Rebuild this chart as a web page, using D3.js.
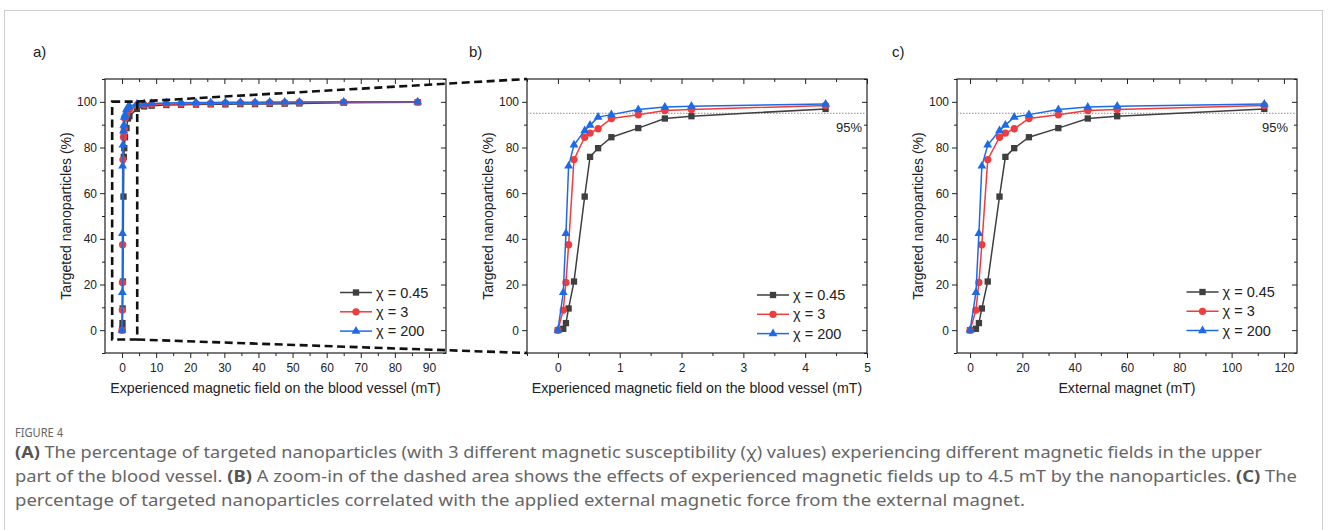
<!DOCTYPE html>
<html>
<head>
<meta charset="utf-8">
<script src="https://cdn.jsdelivr.net/npm/d3@7"></script>
<style>
  body { margin: 0; background: #fff; }
  text { font-family: "Liberation Sans", Arial, sans-serif; }
</style>
</head>
<body>
<script>
// experienced field on the blood vessel (mT), shared by panels a and b
const fieldVessel = [0, 0.0865, 0.13, 0.173, 0.26, 0.433, 0.52, 0.65, 0.865, 1.3, 1.73, 2.16, 4.33]
// extra points that only appear in panel a
const fieldVesselHigh = [6.5, 8.67, 13, 17.3, 21.7, 26, 30.3, 34.7, 39, 43.3, 47.7, 52, 65, 86.7]
// field of the external magnet (mT), panel c
const fieldExternal = [0, 2.25, 3.375, 4.5, 6.75, 11.25, 13.5, 16.875, 22.5, 33.75, 45, 56.25, 112.5]

// targeted nanoparticles (%)
const pctChi045 = [0, 0.6, 3.1, 9.5, 21.3, 58.5, 75.9, 79.7, 84.5, 88.5, 92.7, 93.7, 96.9]
const pctChi3 = [0, 8.8, 20.9, 37.4, 74.7, 84.5, 86.3, 88.2, 92.7, 94.3, 96.2, 96.6, 98.4]
const pctChi200 = [0, 16.5, 42.4, 71.9, 81.1, 87.4, 89.8, 93.3, 94.4, 96.6, 97.7, 98.1, 99.0]
const pctChi045High = [98.0, 98.3, 98.6, 98.7, 98.8, 98.9, 98.9, 99.0, 99.0, 99.1, 99.2, 99.3, 99.6, 99.8]
const pctChi3High = [98.7, 98.9, 99.0, 99.1, 99.2, 99.3, 99.4, 99.5, 99.5, 99.6, 99.6, 99.7, 99.8, 99.9]
const pctChi200High = [99.1, 99.3, 99.5, 99.6, 99.7, 99.7, 99.8, 99.8, 99.8, 99.9, 99.9, 99.9, 100, 100]

const seriesNames = ["χ = 0.45", "χ = 3", "χ = 200"]
const seriesColors = ["#3f3f3f", "#f03c3c", "#1c6be6"]
const seriesSymbols = [d3.symbolSquare, d3.symbolCircle, d3.symbolTriangle]
const seriesSizes = [40, 42, 34]

const yTicks = [0, 20, 40, 60, 80, 100]
const yMinor = [-10, 10, 30, 50, 70, 90, 110]
const xTicksA = [0, 10, 20, 30, 40, 50, 60, 70, 80, 90]
const xMinorA = [5, 15, 25, 35, 45, 55, 65, 75, 85]
const xTicksB = [0, 1, 2, 3, 4, 5]
const xMinorB = [-0.5, 0.5, 1.5, 2.5, 3.5, 4.5]
const xTicksC = [0, 20, 40, 60, 80, 100, 120]
const xMinorC = [10, 30, 50, 70, 90, 110]

const threshold = 95
const zoomBox = { x: [-2.9, 4.45], y: [-4.1, 100.1] }

const W = 1328
const H = 530
const plotTop = 79
const plotBottom = 353

const svg = d3.select("body")
  .append("svg")
  .attr("width", W)
  .attr("height", H)

// outer figure border
svg.append("rect")
  .attr("x", 4.5)
  .attr("y", 10.5)
  .attr("width", 1318)
  .attr("height", 560)
  .attr("fill", "none")
  .attr("stroke", "#cfcfcf")

const zip = (xs, ys) => xs.map((d, i) => [d, ys[i]])

function drawPanel(p) {
  const g = svg.append("g")
  const x = d3.scaleLinear().domain(p.xDomain).range([p.left, p.left + p.width])
  const y = d3.scaleLinear().domain([-10, 110]).range([plotBottom, plotTop])
  const right = p.left + p.width

  const addAxis = (axis, values, size, transform, labels, dy) => {
    g.append("g")
      .attr("transform", transform)
      .call(axis.tickValues(values).tickSize(size).tickPadding(labels ? 3 : 0)
        .tickFormat(labels ? d3.format("d") : ""))
      .call(a => a.select(".domain").remove())
      .call(a => a.selectAll("line").attr("stroke", "#222"))
      .call(a => a.selectAll("text")
        .attr("fill", "#222")
        .attr("dy", dy)
        .style("font-size", "12px")
        .style("font-family", "'Liberation Sans', Arial, sans-serif"))
  }

  addAxis(d3.axisBottom(x), p.xTicks, 5, `translate(0,${plotBottom})`, true, "0.95em")
  addAxis(d3.axisBottom(x), p.xMinor, 3, `translate(0,${plotBottom})`, false)
  addAxis(d3.axisTop(x), p.xTicks, -5, `translate(0,${plotTop})`, false)
  addAxis(d3.axisTop(x), p.xMinor, -3, `translate(0,${plotTop})`, false)
  addAxis(d3.axisLeft(y), yTicks, 5, `translate(${p.left},0)`, true, "0.32em")
  addAxis(d3.axisLeft(y), yMinor, 3, `translate(${p.left},0)`, false)
  addAxis(d3.axisRight(y), yTicks, -5, `translate(${right},0)`, false)
  addAxis(d3.axisRight(y), yMinor, -3, `translate(${right},0)`, false)

  g.append("rect")
    .attr("x", p.left)
    .attr("y", plotTop)
    .attr("width", p.width)
    .attr("height", plotBottom - plotTop)
    .attr("fill", "none")
    .attr("stroke", "#222")
    .attr("stroke-width", 1.2)

  if (p.threshold) {
    g.append("line")
      .attr("x1", p.left)
      .attr("x2", right)
      .attr("y1", y(threshold))
      .attr("y2", y(threshold))
      .attr("stroke", "#8a8a8a")
      .attr("stroke-width", 1)
      .attr("stroke-dasharray", "1.5,1.5")
    g.append("text")
      .attr("x", right - p.pctInset)
      .attr("y", y(threshold) + 19)
      .attr("text-anchor", "end")
      .attr("fill", "#222")
      .style("font-size", "13px")
      .text(threshold + "%")
  }

  const line = d3.line().x(d => x(d[0])).y(d => y(d[1]))
  p.series.forEach((s, i) => {
    g.append("path")
      .datum(s)
      .attr("d", line)
      .attr("fill", "none")
      .attr("stroke", seriesColors[i])
      .attr("stroke-width", 1.5)
    g.selectAll(null)
      .data(s)
      .enter()
      .append("path")
      .attr("transform", d => `translate(${x(d[0])},${y(d[1])})`)
      .attr("d", d3.symbol(seriesSymbols[i], seriesSizes[i]))
      .attr("fill", seriesColors[i])
  })

  // legend
  seriesNames.forEach((name, i) => {
    const ly = p.legendY + i * 19.3
    g.append("line")
      .attr("x1", right - p.legendX)
      .attr("x2", right - p.legendX + 32)
      .attr("y1", ly)
      .attr("y2", ly)
      .attr("stroke", seriesColors[i])
      .attr("stroke-width", 1.5)
    g.append("path")
      .attr("transform", `translate(${right - p.legendX + 16},${ly})`)
      .attr("d", d3.symbol(seriesSymbols[i], seriesSizes[i]))
      .attr("fill", seriesColors[i])
    g.append("text")
      .attr("x", right - p.legendX + 36)
      .attr("y", ly + 5)
      .attr("fill", "#222")
      .style("font-size", "14.5px")
      .text(name)
  })

  g.append("text")
    .attr("x", (p.left + right) / 2)
    .attr("y", 393)
    .attr("text-anchor", "middle")
    .attr("fill", "#222")
    .style("font-size", "14.2px")
    .text(p.xTitle)

  g.append("text")
    .attr("transform", `translate(${p.left - 34},${(plotTop + plotBottom) / 2}) rotate(-90)`)
    .attr("text-anchor", "middle")
    .attr("fill", "#222")
    .style("font-size", "14px")
    .text("Targeted nanoparticles (%)")

  g.append("text")
    .attr("x", p.labelX)
    .attr("y", 57)
    .attr("fill", "#222")
    .style("font-size", "15px")
    .text(p.label)

  return { x, y }
}

const panelA = drawPanel({
  label: "a)", labelX: 33, left: 105, width: 341, xDomain: [-5, 95],
  xTicks: xTicksA, xMinor: xMinorA, legendX: 106, legendY: 292.5,
  xTitle: "Experienced magnetic field on the blood vessel (mT)",
  series: [
    zip(fieldVessel.concat(fieldVesselHigh), pctChi045.concat(pctChi045High)),
    zip(fieldVessel.concat(fieldVesselHigh), pctChi3.concat(pctChi3High)),
    zip(fieldVessel.concat(fieldVesselHigh), pctChi200.concat(pctChi200High))
  ]
})

const panelB = drawPanel({
  label: "b)", labelX: 469, left: 527, width: 340, xDomain: [-0.5, 5],
  xTicks: xTicksB, xMinor: xMinorB, legendX: 110, legendY: 295,
  threshold: true, pctInset: 5,
  xTitle: "Experienced magnetic field on the blood vessel (mT)",
  series: [zip(fieldVessel, pctChi045), zip(fieldVessel, pctChi3), zip(fieldVessel, pctChi200)]
})

drawPanel({
  label: "c)", labelX: 892, left: 957, width: 340, xDomain: [-5, 125],
  xTicks: xTicksC, xMinor: xMinorC, legendX: 110.5, legendY: 292,
  threshold: true, pctInset: 9,
  xTitle: "External magnet (mT)",
  series: [zip(fieldExternal, pctChi045), zip(fieldExternal, pctChi3), zip(fieldExternal, pctChi200)]
})

// dashed zoom box in panel a and the lines to panel b
const bx0 = panelA.x(zoomBox.x[0])
const bx1 = panelA.x(zoomBox.x[1])
const by0 = panelA.y(zoomBox.y[1])
const by1 = panelA.y(zoomBox.y[0])
const bLeft = panelB.x.range()[0]
const dash = g => g.attr("fill", "none").attr("stroke", "#111")
  .attr("stroke-width", 2.6).attr("stroke-dasharray", "8,4.5")

svg.append("rect")
  .attr("x", bx0).attr("y", by0)
  .attr("width", bx1 - bx0).attr("height", by1 - by0)
  .call(dash)
svg.append("line")
  .attr("x1", bx1).attr("y1", by0).attr("x2", bLeft).attr("y2", plotTop)
  .call(dash)
svg.append("line")
  .attr("x1", bx1).attr("y1", by1).attr("x2", bLeft).attr("y2", plotBottom)
  .call(dash)

// caption
const cap = svg.append("g")
  .attr("fill", "#666")

cap.append("text")
  .attr("x", 15)
  .attr("y", 437)
  .style("font-size", "12px")
  .style("font-family", "'Noto Sans', sans-serif")
  .attr("textLength", 48)
  .attr("lengthAdjust", "spacingAndGlyphs")
  .text("FIGURE 4")

const captionLines = [
  [["(A)", true], [" The percentage of targeted nanoparticles (with 3 different magnetic susceptibility (χ) values) experiencing different magnetic fields in the upper", false]],
  [["part of the blood vessel. ", false], ["(B)", true], [" A zoom-in of the dashed area shows the effects of experienced magnetic fields up to 4.5 mT by the nanoparticles. ", false], ["(C)", true], [" The", false]],
  [["percentage of targeted nanoparticles correlated with the applied external magnetic force from the external magnet.", false]]
]
const captionWidths = [1247, 1282, 1010]

captionLines.forEach((parts, i) => {
  const t = cap.append("text")
    .attr("x", 15)
    .attr("y", 458 + i * 24)
    .style("font-size", "15.5px")
    .style("font-family", "'Noto Sans', sans-serif")
    .attr("textLength", captionWidths[i])
    .attr("lengthAdjust", "spacingAndGlyphs")
  parts.forEach(([s, bold]) => {
    t.append("tspan")
      .attr("font-weight", bold ? "bold" : null)
      .attr("fill", bold ? "#555" : null)
      .text(s)
  })
})
</script>
</body>
</html>
